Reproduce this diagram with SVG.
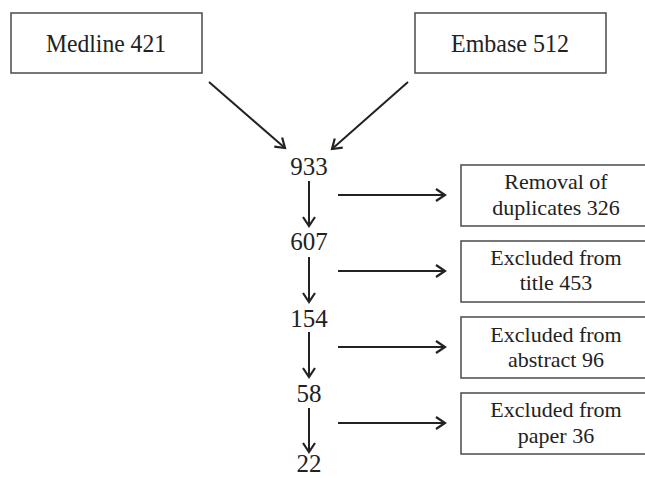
<svg xmlns="http://www.w3.org/2000/svg" width="645" height="478" viewBox="0 0 645 478" font-family="'Liberation Serif', 'Times New Roman', 'DejaVu Serif', serif">
<style>
.box{fill:#fff;stroke:#555;stroke-width:1.6}
text{font-family:'Liberation Serif','Times New Roman','DejaVu Serif',serif;fill:#222;text-anchor:middle}
.big{font-size:25px}
.sm{font-size:22px}
.c{stroke:#222;stroke-width:2;fill:none}
</style>
<defs>
<marker id="ah" markerUnits="userSpaceOnUse" markerWidth="14" markerHeight="16" refX="11" refY="7" orient="auto" viewBox="0 0 14 14">
<path d="M2,1 L11,7 L2,13" fill="none" stroke="#222" stroke-width="2.2"/>
</marker>
</defs>
<rect width="645" height="478" fill="#fff"/>
<g id="medline"><rect class="box" x="11" y="13" width="191" height="60"/><text class="big" x="106" y="52" textLength="120" lengthAdjust="spacingAndGlyphs">Medline 421</text></g>
<g id="embase"><rect class="box" x="415" y="13" width="191" height="60"/><text class="big" x="510" y="52" textLength="118" lengthAdjust="spacingAndGlyphs">Embase 512</text></g>
<g id="n933"><text class="big" x="309" y="175">933</text></g>
<g id="n607"><text class="big" x="309" y="250">607</text></g>
<g id="n154"><text class="big" x="309" y="327">154</text></g>
<g id="n58"><text class="big" x="309" y="402">58</text></g>
<g id="n22"><text class="big" x="309" y="472">22</text></g>
<g id="dup"><rect class="box" x="461" y="165" width="191" height="61"/><text class="sm" x="556" y="189">Removal of</text><text class="sm" x="556" y="215">duplicates 326</text></g>
<g id="title"><rect class="box" x="461" y="241" width="191" height="61"/><text class="sm" x="556" y="265">Excluded from</text><text class="sm" x="556" y="290">title 453</text></g>
<g id="abstract"><rect class="box" x="461" y="317" width="191" height="61"/><text class="sm" x="556" y="342">Excluded from</text><text class="sm" x="556" y="367">abstract 96</text></g>
<g id="paper"><rect class="box" x="461" y="393" width="191" height="61"/><text class="sm" x="556" y="417">Excluded from</text><text class="sm" x="556" y="443">paper 36</text></g>
<g id="connectors" class="c">
<line x1="209" y1="82" x2="285" y2="148" marker-end="url(#ah)"/>
<line x1="408" y1="82" x2="332" y2="149" marker-end="url(#ah)"/>
<line x1="309" y1="181" x2="309" y2="226" marker-end="url(#ah)"/>
<line x1="309" y1="257" x2="309" y2="302" marker-end="url(#ah)"/>
<line x1="309" y1="332" x2="309" y2="377" marker-end="url(#ah)"/>
<line x1="309" y1="408" x2="309" y2="452" marker-end="url(#ah)"/>
<line x1="338" y1="195" x2="445" y2="195" marker-end="url(#ah)"/>
<line x1="338" y1="271" x2="445" y2="271" marker-end="url(#ah)"/>
<line x1="338" y1="347" x2="445" y2="347" marker-end="url(#ah)"/>
<line x1="338" y1="423" x2="445" y2="423" marker-end="url(#ah)"/>
</g>
</svg>
